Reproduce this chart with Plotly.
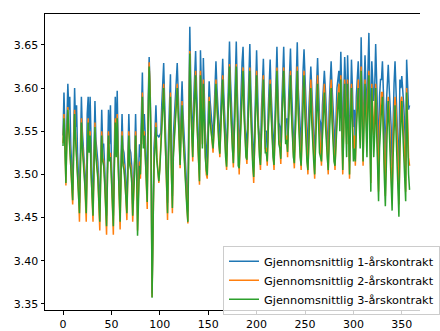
import plotly.graph_objects as go

series_names = ["Gjennomsnittlig 1-årskontrakt", "Gjennomsnittlig 2-årskontrakt", "Gjennomsnittlig 3-årskontrakt"]

kontrakt_1 = [
    3.545, 3.595, 3.55, 3.50, 3.56, 3.605, 3.575,
    3.59, 3.535, 3.51, 3.482, 3.545, 3.60, 3.555,
    3.58, 3.525, 3.50, 3.467, 3.53, 3.59, 3.55,
    3.535, 3.52, 3.495, 3.467, 3.57, 3.59, 3.545,
    3.59, 3.52, 3.49, 3.464, 3.525, 3.585, 3.54,
    3.53, 3.515, 3.485, 3.457, 3.52, 3.575, 3.535,
    3.535, 3.51, 3.48, 3.452, 3.52, 3.575, 3.535,
    3.58, 3.515, 3.485, 3.452, 3.525, 3.59, 3.54,
    3.597, 3.53, 3.49, 3.457, 3.52, 3.57, 3.53,
    3.525, 3.51, 3.485, 3.467, 3.52, 3.57, 3.53,
    3.525, 3.51, 3.465, 3.495, 3.52, 3.57, 3.53,
    3.47, 3.50, 3.535, 3.52, 3.565, 3.618, 3.55,
    3.57, 3.545, 3.52, 3.48, 3.585, 3.636, 3.60,
    3.54, 3.362, 3.47, 3.53, 3.55, 3.58, 3.545,
    3.545, 3.543, 3.545, 3.548, 3.58, 3.60, 3.629,
    3.585, 3.545, 3.51, 3.467, 3.545, 3.585, 3.616,
    3.52, 3.475, 3.545, 3.565, 3.58, 3.595, 3.629,
    3.595, 3.565, 3.523, 3.575, 3.608, 3.57, 3.545,
    3.525, 3.50, 3.475, 3.457, 3.58, 3.671, 3.605,
    3.575, 3.532, 3.585, 3.625, 3.643, 3.60, 3.565,
    3.535, 3.505, 3.644, 3.59, 3.56, 3.635, 3.58,
    3.55, 3.53, 3.511, 3.57, 3.608, 3.585, 3.57,
    3.565, 3.542, 3.57, 3.60, 3.631, 3.60, 3.575,
    3.56, 3.536, 3.575, 3.61, 3.634, 3.595, 3.56,
    3.545, 3.521, 3.565, 3.60, 3.654, 3.61, 3.565,
    3.555, 3.525, 3.575, 3.62, 3.654, 3.60, 3.535,
    3.519, 3.56, 3.60, 3.63, 3.648, 3.60, 3.555,
    3.545, 3.529, 3.575, 3.62, 3.651, 3.60, 3.555,
    3.535, 3.509, 3.565, 3.61, 3.644, 3.60, 3.555,
    3.545, 3.523, 3.575, 3.61, 3.634, 3.59, 3.55,
    3.55, 3.527, 3.575, 3.61, 3.633, 3.595, 3.555,
    3.545, 3.523, 3.575, 3.62, 3.648, 3.60, 3.56,
    3.555, 3.53, 3.58, 3.62, 3.648, 3.60, 3.56,
    3.565, 3.538, 3.585, 3.62, 3.646, 3.60, 3.56,
    3.545, 3.525, 3.58, 3.625, 3.653, 3.60, 3.565,
    3.555, 3.525, 3.585, 3.62, 3.645, 3.61, 3.57,
    3.555, 3.52, 3.575, 3.605, 3.625, 3.60, 3.565,
    3.55, 3.515, 3.575, 3.61, 3.635, 3.60, 3.565,
    3.56, 3.53, 3.58, 3.605, 3.62, 3.60, 3.57,
    3.56, 3.52, 3.58, 3.61, 3.631, 3.60, 3.565,
    3.555, 3.525, 3.575, 3.60, 3.61, 3.62, 3.59,
    3.642, 3.595, 3.52, 3.59, 3.636, 3.605, 3.56,
    3.638, 3.595, 3.515, 3.60, 3.633, 3.60, 3.555,
    3.575, 3.53, 3.59, 3.615, 3.631, 3.60, 3.57,
    3.659, 3.60, 3.53, 3.60, 3.638, 3.60, 3.565,
    3.62, 3.664, 3.60, 3.52, 3.631, 3.61, 3.585,
    3.60, 3.651, 3.61, 3.575, 3.52, 3.59, 3.61,
    3.61, 3.631, 3.595, 3.565, 3.515, 3.58, 3.605,
    3.627, 3.60, 3.58, 3.555, 3.51, 3.58, 3.605,
    3.631, 3.60, 3.58, 3.55, 3.50, 3.61, 3.60,
    3.614, 3.60, 3.58, 3.555, 3.515, 3.633, 3.595,
    3.575, 3.58,
]

kontrakt_2 = [
    3.536, 3.57, 3.535, 3.487, 3.545, 3.578, 3.555,
    3.535, 3.52, 3.49, 3.465, 3.53, 3.575, 3.545,
    3.525, 3.51, 3.48, 3.445, 3.515, 3.565, 3.535,
    3.52, 3.505, 3.475, 3.445, 3.515, 3.565, 3.53,
    3.55, 3.505, 3.47, 3.445, 3.51, 3.56, 3.525,
    3.515, 3.50, 3.465, 3.435, 3.505, 3.55, 3.52,
    3.515, 3.495, 3.46, 3.43, 3.505, 3.55, 3.52,
    3.525, 3.50, 3.465, 3.43, 3.51, 3.565, 3.525,
    3.57, 3.515, 3.47, 3.436, 3.505, 3.55, 3.515,
    3.51, 3.495, 3.465, 3.447, 3.505, 3.55, 3.515,
    3.51, 3.495, 3.445, 3.475, 3.505, 3.55, 3.515,
    3.435, 3.485, 3.515, 3.495, 3.545, 3.595, 3.535,
    3.55, 3.525, 3.495, 3.46, 3.565, 3.63, 3.595,
    3.525, 3.358, 3.455, 3.515, 3.535, 3.56, 3.52,
    3.505, 3.49, 3.51, 3.535, 3.565, 3.585, 3.605,
    3.565, 3.525, 3.485, 3.447, 3.525, 3.565, 3.595,
    3.505, 3.455, 3.525, 3.545, 3.56, 3.575, 3.605,
    3.575, 3.545, 3.507, 3.555, 3.585, 3.55, 3.525,
    3.505, 3.485, 3.455, 3.443, 3.555, 3.643, 3.585,
    3.555, 3.515, 3.565, 3.605, 3.62, 3.575, 3.545,
    3.515, 3.488, 3.62, 3.565, 3.535, 3.61, 3.555,
    3.525, 3.50, 3.495, 3.545, 3.59, 3.565, 3.55,
    3.545, 3.525, 3.55, 3.575, 3.61, 3.58, 3.55,
    3.54, 3.52, 3.555, 3.585, 3.615, 3.575, 3.535,
    3.525, 3.505, 3.545, 3.58, 3.628, 3.585, 3.545,
    3.535, 3.508, 3.555, 3.595, 3.628, 3.58, 3.515,
    3.50, 3.54, 3.575, 3.605, 3.624, 3.575, 3.535,
    3.525, 3.512, 3.555, 3.595, 3.624, 3.575, 3.535,
    3.515, 3.49, 3.545, 3.585, 3.62, 3.575, 3.535,
    3.525, 3.505, 3.555, 3.59, 3.615, 3.57, 3.53,
    3.53, 3.51, 3.555, 3.585, 3.61, 3.575, 3.535,
    3.525, 3.505, 3.555, 3.595, 3.624, 3.58, 3.54,
    3.535, 3.512, 3.56, 3.595, 3.624, 3.58, 3.54,
    3.545, 3.52, 3.565, 3.595, 3.62, 3.575, 3.535,
    3.525, 3.507, 3.555, 3.595, 3.625, 3.58, 3.54,
    3.53, 3.505, 3.56, 3.595, 3.62, 3.58, 3.54,
    3.525, 3.50, 3.55, 3.585, 3.61, 3.575, 3.54,
    3.525, 3.495, 3.55, 3.585, 3.615, 3.575, 3.54,
    3.53, 3.51, 3.555, 3.585, 3.605, 3.575, 3.545,
    3.53, 3.50, 3.555, 3.585, 3.61, 3.575, 3.54,
    3.525, 3.505, 3.55, 3.575, 3.59, 3.605, 3.565,
    3.615, 3.565, 3.50, 3.555, 3.61, 3.58, 3.535,
    3.61, 3.565, 3.495, 3.57, 3.605, 3.57, 3.53,
    3.545, 3.51, 3.56, 3.59, 3.61, 3.575, 3.545,
    3.625, 3.57, 3.51, 3.575, 3.61, 3.575, 3.54,
    3.595, 3.62, 3.565, 3.49, 3.605, 3.575, 3.545,
    3.57, 3.605, 3.575, 3.535, 3.48, 3.555, 3.58,
    3.595, 3.595, 3.56, 3.525, 3.475, 3.545, 3.575,
    3.59, 3.575, 3.545, 3.515, 3.47, 3.545, 3.575,
    3.59, 3.575, 3.55, 3.52, 3.465, 3.55, 3.585,
    3.59, 3.57, 3.55, 3.52, 3.48, 3.60, 3.565,
    3.52, 3.51,
]

kontrakt_3 = [
    3.533, 3.565, 3.53, 3.49, 3.54, 3.575, 3.55,
    3.53, 3.515, 3.495, 3.47, 3.525, 3.57, 3.54,
    3.52, 3.505, 3.485, 3.455, 3.51, 3.56, 3.53,
    3.515, 3.50, 3.48, 3.455, 3.51, 3.56, 3.525,
    3.545, 3.50, 3.478, 3.452, 3.505, 3.555, 3.52,
    3.51, 3.495, 3.47, 3.445, 3.50, 3.545, 3.515,
    3.51, 3.49, 3.465, 3.44, 3.50, 3.545, 3.515,
    3.52, 3.495, 3.47, 3.44, 3.505, 3.56, 3.52,
    3.565, 3.51, 3.475, 3.445, 3.50, 3.545, 3.51,
    3.505, 3.49, 3.47, 3.455, 3.50, 3.545, 3.51,
    3.505, 3.49, 3.452, 3.48, 3.50, 3.545, 3.51,
    3.429, 3.48, 3.51, 3.50, 3.54, 3.59, 3.53,
    3.545, 3.52, 3.50, 3.468, 3.56, 3.625, 3.59,
    3.52, 3.357, 3.45, 3.51, 3.53, 3.555, 3.515,
    3.50, 3.492, 3.505, 3.53, 3.56, 3.58, 3.60,
    3.56, 3.52, 3.49, 3.455, 3.52, 3.56, 3.59,
    3.50, 3.461, 3.52, 3.54, 3.555, 3.57, 3.60,
    3.57, 3.54, 3.511, 3.55, 3.58, 3.545, 3.52,
    3.50, 3.48, 3.46, 3.445, 3.55, 3.64, 3.58,
    3.55, 3.52, 3.56, 3.60, 3.615, 3.57, 3.54,
    3.51, 3.492, 3.615, 3.56, 3.53, 3.605, 3.55,
    3.52, 3.505, 3.499, 3.54, 3.585, 3.56, 3.545,
    3.54, 3.53, 3.545, 3.57, 3.605, 3.575, 3.545,
    3.535, 3.524, 3.55, 3.58, 3.61, 3.57, 3.53,
    3.52, 3.509, 3.54, 3.575, 3.625, 3.58, 3.54,
    3.53, 3.513, 3.55, 3.59, 3.625, 3.575, 3.51,
    3.507, 3.535, 3.57, 3.60, 3.62, 3.57, 3.53,
    3.52, 3.517, 3.55, 3.59, 3.62, 3.57, 3.53,
    3.51, 3.497, 3.54, 3.58, 3.615, 3.57, 3.53,
    3.52, 3.511, 3.55, 3.585, 3.61, 3.565, 3.525,
    3.525, 3.515, 3.55, 3.58, 3.605, 3.57, 3.53,
    3.52, 3.511, 3.55, 3.59, 3.62, 3.575, 3.535,
    3.53, 3.518, 3.555, 3.59, 3.62, 3.575, 3.535,
    3.54, 3.526, 3.56, 3.59, 3.615, 3.57, 3.53,
    3.52, 3.513, 3.55, 3.59, 3.62, 3.57, 3.53,
    3.52, 3.51, 3.55, 3.585, 3.615, 3.565, 3.525,
    3.515, 3.505, 3.54, 3.575, 3.60, 3.56, 3.525,
    3.515, 3.50, 3.54, 3.575, 3.605, 3.56, 3.525,
    3.52, 3.515, 3.545, 3.575, 3.595, 3.56, 3.53,
    3.52, 3.505, 3.545, 3.575, 3.60, 3.56, 3.525,
    3.515, 3.51, 3.54, 3.565, 3.58, 3.595, 3.55,
    3.61, 3.55, 3.505, 3.545, 3.605, 3.565, 3.52,
    3.605, 3.55, 3.50, 3.56, 3.60, 3.555, 3.515,
    3.53, 3.515, 3.55, 3.575, 3.60, 3.56, 3.53,
    3.62, 3.555, 3.515, 3.56, 3.605, 3.56, 3.52,
    3.58, 3.615, 3.54, 3.48, 3.60, 3.55, 3.52,
    3.545, 3.60, 3.55, 3.51, 3.469, 3.53, 3.56,
    3.575, 3.59, 3.53, 3.495, 3.463, 3.52, 3.555,
    3.585, 3.55, 3.515, 3.485, 3.458, 3.52, 3.555,
    3.58, 3.55, 3.52, 3.49, 3.451, 3.53, 3.57,
    3.585, 3.55, 3.52, 3.49, 3.469, 3.595, 3.54,
    3.50, 3.482,
]

x_ticks = [0, 50, 100, 150, 200, 250, 300, 350]
y_ticks = [3.35, 3.40, 3.45, 3.50, 3.55, 3.60, 3.65]
colors = ["#1f77b4", "#ff7f0e", "#2ca02c"]

fig = go.Figure()
for name, vals, col in zip(series_names, [kontrakt_1, kontrakt_2, kontrakt_3], colors):
    fig.add_trace(go.Scatter(x=list(range(len(vals))), y=vals, mode="lines", name=name,
                             line=dict(color=col, width=1.5)))

font = dict(family="DejaVu Sans", size=11, color="#000000")
legend_font = dict(family="DejaVu Sans", size=11.3, color="#000000")
fig.update_layout(
    width=440, height=331,
    margin=dict(l=45, r=0, t=14, b=18),
    plot_bgcolor="white", paper_bgcolor="white",
    font=font,
    showlegend=True,
    legend=dict(x=0.475, y=0.217, xanchor="left", yanchor="top",
                bgcolor="rgba(255,255,255,0.8)", bordercolor="#cccccc", borderwidth=1,
                font=legend_font, tracegroupgap=0),
)
fig.update_xaxes(range=[-18.6, 368.8], tickvals=x_ticks, ticktext=[str(v) for v in x_ticks],
                 showgrid=False, zeroline=False, showline=True, linecolor="black", linewidth=1,
                 mirror=True, ticks="outside", ticklen=3.5, tickcolor="black", tickfont=font)
fig.update_yaxes(range=[3.3428, 3.6859], tickvals=y_ticks, ticktext=[f"{v:.2f}" for v in y_ticks],
                 showgrid=False, zeroline=False, showline=True, linecolor="black", linewidth=1,
                 ticks="outside", ticklen=3.5, tickcolor="black", tickfont=font)

fig.write_html("out.html")
